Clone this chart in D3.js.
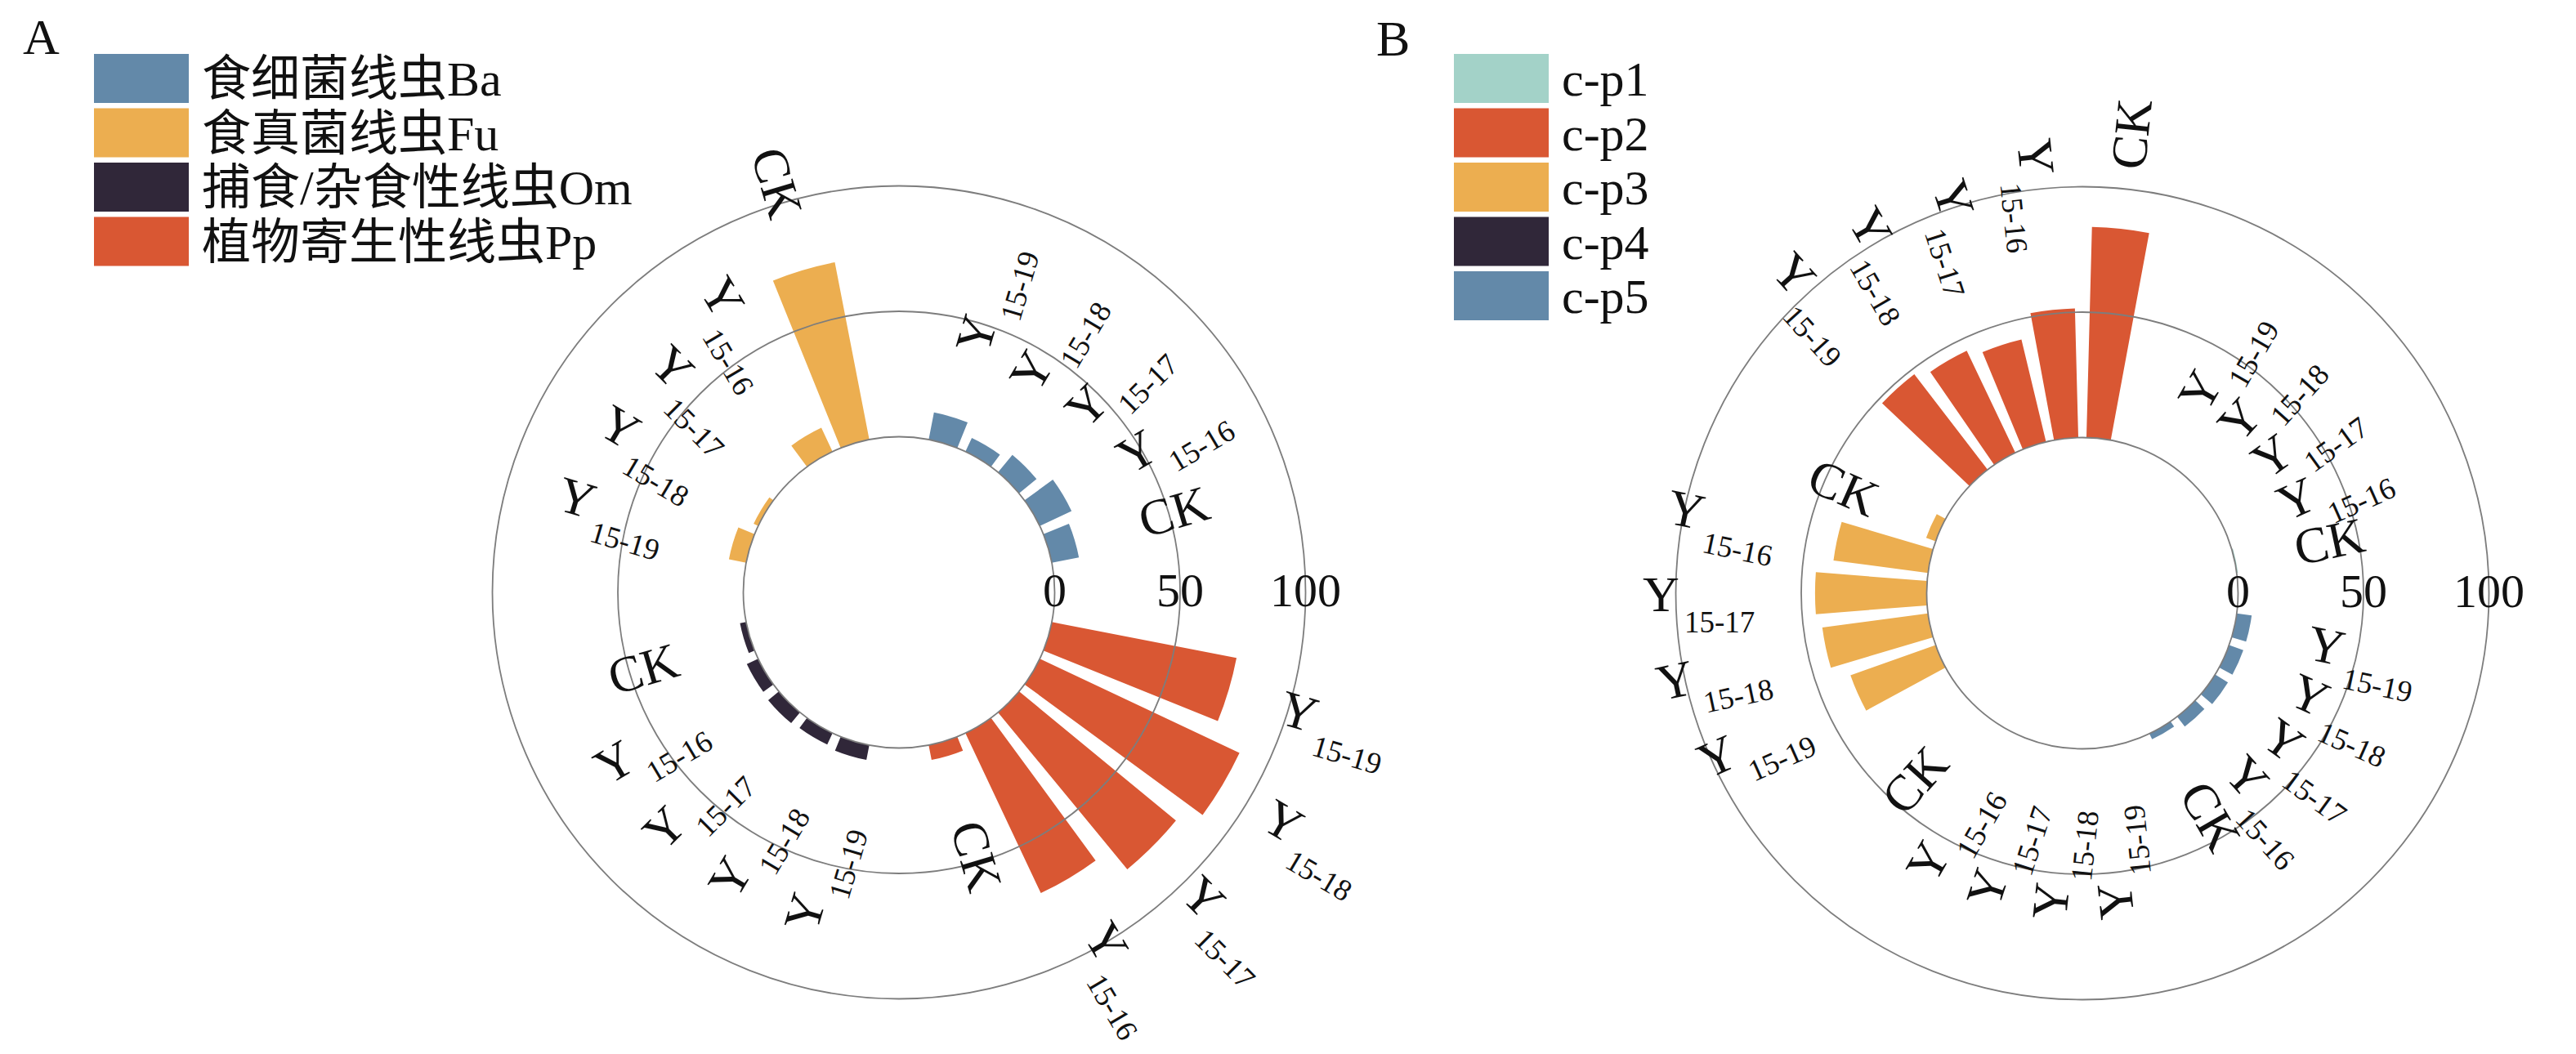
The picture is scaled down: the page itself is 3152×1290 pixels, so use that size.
<!DOCTYPE html>
<html><head><meta charset="utf-8">
<script src="https://cdn.jsdelivr.net/npm/d3@7"></script>
<style>
body{margin:0;background:#fff}
svg text{font-family:"Liberation Serif","Times New Roman","Noto Sans CJK SC",serif;fill:#111}
</style>
</head><body>
<svg id="c" width="3152" height="1290"></svg>
<script>
// ---------------- data ----------------
const treatments = ["CK","Y15-16","Y15-17","Y15-18","Y15-19"];
const radialTicks = [0, 50, 100];

// Panel A: trophic groups
const groupsA = ["食细菌线虫Ba","食真菌线虫Fu","捕食/杂食性线虫Om","植物寄生性线虫Pp"];
const colorsA = ["#6389a9","#ecae50","#302739","#d95733"];
const baValues = [11, 14, 9, 6, 11];
const fuValues = [72, 10.5, 0, 2, 7];
const omValues = [2.5, 5, 5.5, 5, 6];
const ppValues = [6, 70.5, 81, 88, 75];

// Panel B: c-p groups
const groupsB = ["c-p1","c-p2","c-p3","c-p4","c-p5"];
const colorsB = ["#a3d2c8","#d95733","#ecae50","#302739","#6389a9"];
const cp1Values = [0.5, 0, 0, 0, 0];
const cp2Values = [84, 51.5, 42, 45, 48];
const cp3Values = [4, 38, 44.5, 42.5, 36];
const cp4Values = [0, 0, 0, 0, 0];
const cp5Values = [2.5, 5, 6, 6, 6];

// ---------------- drawing ----------------
const svg = d3.select("#c");
const rad = d => d * Math.PI / 180;

function drawPolar(opt){
  const {cx, cy, series, colors, span, padIn, padOut, labelOff, labelK, flipTo} = opt;
  const g = svg.append("g").attr("transform", `translate(${cx},${cy})`);
  const r = d3.scaleLinear().domain([0, 100]).range([190.5, 497.5]);
  const arc = d3.arc();

  const bars = [];
  series.forEach((vals, gi) => {
    const band = d3.scaleBand().domain(treatments)
      .range([gi * span, (gi + 1) * span])
      .paddingInner(padIn).paddingOuter(padOut);
    vals.forEach((v, i) => {
      const t = treatments[i];
      const a1 = band(t), a2 = a1 + band.bandwidth();
      bars.push({v, t, gi, a1, a2, ac: (a1 + a2) / 2, color: colors[gi]});
    });
  });

  // bars
  g.selectAll("path.bar").data(bars).join("path")
    .attr("class", "bar")
    .attr("fill", d => d.color)
    .attr("d", d => arc({innerRadius: r(0), outerRadius: r(d.v),
                         startAngle: rad(90 - d.a2), endAngle: rad(90 - d.a1)}));

  // grid circles
  g.selectAll("circle.grid").data(radialTicks).join("circle")
    .attr("class", "grid")
    .attr("r", d => r(d))
    .attr("fill", "none").attr("stroke", "#7d7d7d").attr("stroke-width", 1.8);

  // tick labels
  g.selectAll("text.tick").data(radialTicks).join("text")
    .attr("class", "tick")
    .attr("x", d => r(d)).attr("y", -3)
    .attr("text-anchor", "middle").attr("dominant-baseline", "central")
    .attr("font-size", 58)
    .text(d => d);

  // category labels
  bars.forEach(d => {
    const th = ((d.ac % 360) + 360) % 360;
    const flip = th > 90 && th < flipTo;
    const rr = r(d.v * labelK + labelOff);
    const x = rr * Math.cos(rad(th)), y = -rr * Math.sin(rad(th));
    const rot = flip ? 180 - th : -th;
    const txt = g.append("text")
      .attr("transform", `translate(${x},${y}) rotate(${rot})`)
      .attr("text-anchor", flip ? "end" : "start")
      .attr("font-size", 62);
    if (d.t.startsWith("Y")) {
      txt.append("tspan").attr("dy", "0.35em").text("Y");
      txt.append("tspan").attr("dx", 6).attr("dy", 26).attr("font-size", 37).text(d.t.slice(1));
    } else {
      txt.append("tspan").attr("dy", "0.35em").text(d.t);
    }
  });
}

function drawLegend(x0, y0, labels, colors, letter, lx, ly){
  svg.append("text").attr("x", lx).attr("y", ly).attr("font-size", 62).text(letter);
  const lg = svg.append("g");
  labels.forEach((lab, i) => {
    const y = y0 + i * 66.5;
    lg.append("rect").attr("x", x0).attr("y", y).attr("width", 116).attr("height", 60)
      .attr("fill", colors[i]);
    lg.append("text").attr("x", x0 + 132).attr("y", y + 51)
      .attr("font-size", 60).text(lab);
  });
}

drawPolar({cx: 1100, cy: 725, series: [baValues, fuValues, omValues, ppValues],
           colors: colorsA, span: 90, padIn: 0.228, padOut: 0.772,
           labelOff: 28, labelK: 0.92, flipTo: 270});
drawPolar({cx: 2548, cy: 726, series: [cp1Values, cp2Values, cp3Values, cp4Values, cp5Values],
           colors: colorsB, span: 72, padIn: 0.25, padOut: 0.625,
           labelOff: 24, labelK: 1, flipTo: 282});

drawLegend(115, 66, groupsA, colorsA, "A", 28, 66);
drawLegend(1779, 66, groupsB, colorsB, "B", 1684, 68);
</script>
</body></html>
